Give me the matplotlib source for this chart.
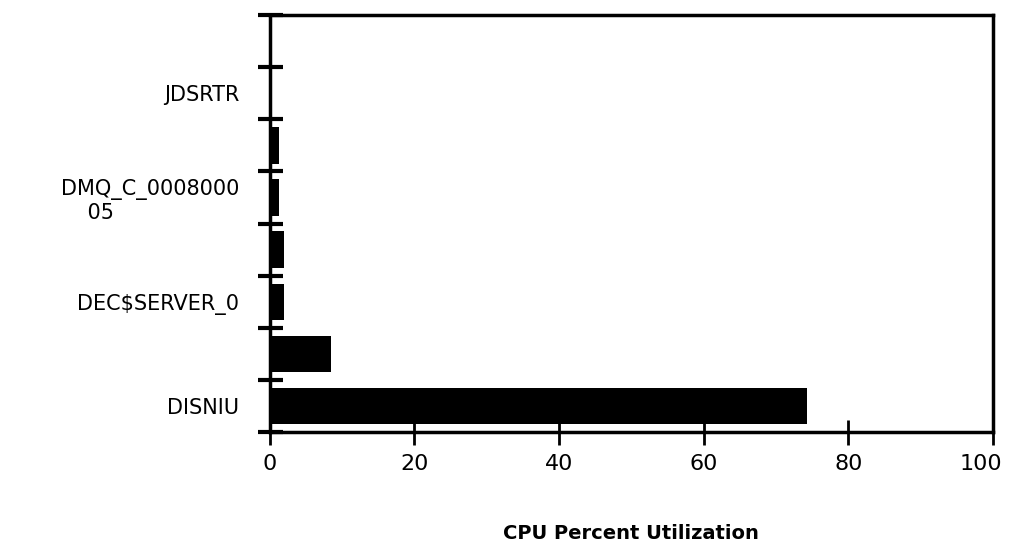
import matplotlib
matplotlib.use("Agg")
import matplotlib.pyplot as plt
import matplotlib.transforms as mtransforms
import numpy as np

categories = ["DISNIU", "", "DEC$SERVER_0", "", "DMQ_C_0008000\n    05", "", "JDSRTR", ""]
values = [74.3, 8.5, 2.0, 2.0, 1.3, 1.3, 0.0, 0.0]
xticks = [0, 20, 40, 60, 80, 100]

fig = plt.figure(figsize=(10.1, 5.52), dpi=100)
ax = fig.add_axes([0.267, 0.217, 0.716, 0.756])

pos = np.arange(len(categories))
ax.barh(pos, values, height=0.7, color="black")
ax.set_xlim(0, 100)
ax.set_ylim(-0.5, len(categories) - 0.5)

ax.set_yticks(pos)
ax.set_yticklabels(categories, fontsize=15, multialignment="left")
ax.set_yticks(np.arange(-0.5, len(categories), 1.0), minor=True)
ax.tick_params(axis="y", which="major", length=0, pad=22)
ax.tick_params(axis="y", which="minor", direction="inout", length=18, width=3)

ax.set_xticks(xticks)
ax.set_xticklabels([str(t) for t in xticks], fontsize=16)
ax.tick_params(axis="x", direction="inout", length=18, width=2, pad=7)
last = ax.get_xticklabels()[-1]
last.set_transform(last.get_transform() + mtransforms.ScaledTranslation(-12 / 100, 0, fig.dpi_scale_trans))

for s in ax.spines.values():
    s.set_linewidth(2.5)

ax.set_xlabel("CPU Percent Utilization", fontsize=14, fontweight="bold", labelpad=36)

fig.savefig("out.png", dpi=100)
